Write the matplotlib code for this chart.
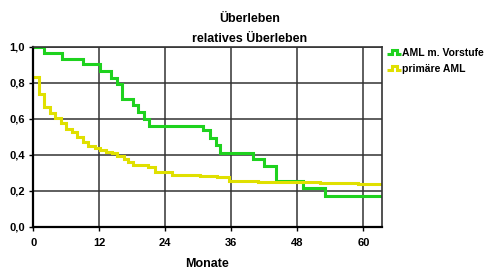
import numpy as np
import matplotlib
matplotlib.use("Agg")
import matplotlib.pyplot as plt
from matplotlib.legend_handler import HandlerBase
from matplotlib.lines import Line2D

plt.rcParams['font.family'] = ['Liberation Sans Narrow', 'Liberation Sans', 'DejaVu Sans']
plt.rcParams['font.weight'] = 'bold'

# Kaplan-Meier step data (months, relative survival)
green_t = [0, 2.0, 5.2, 9.0, 12.1, 14.1, 15.2, 16.1, 18.2, 19.1, 20.1, 21.1,
           30.9, 32.2, 33.2, 34.0, 40.0, 42.0, 44.1, 49.0, 53.0]
green_s = [1.0, 0.967, 0.932, 0.902, 0.867, 0.824, 0.791, 0.709, 0.676, 0.639, 0.597, 0.559,
           0.537, 0.491, 0.454, 0.408, 0.376, 0.337, 0.256, 0.213, 0.172]

yellow_t = [0, 1.1, 2.0, 3.0, 4.0, 5.0, 5.9, 7.0, 8.0, 9.0, 10.0, 11.2, 12.1, 13.3,
            14.3, 15.2, 16.4, 17.3, 18.1, 20.9, 22.1, 25.2, 30.3, 33.3, 35.5, 40.9, 52.1, 59.1]
yellow_s = [0.832, 0.736, 0.667, 0.633, 0.602, 0.574, 0.544, 0.524, 0.50, 0.47, 0.45, 0.436,
            0.426, 0.417, 0.408, 0.394, 0.376, 0.361, 0.343, 0.333, 0.302, 0.287, 0.282,
            0.274, 0.256, 0.247, 0.241, 0.237]

labels = ['AML m. Vorstufe', 'primäre AML']
colors = ['#1ed21e', '#e0e000']
x_max = 63.3
x_ticks = [0, 12, 24, 36, 48, 60]
y_ticks = [0.0, 0.2, 0.4, 0.6, 0.8, 1.0]


class StepHandler(HandlerBase):
    # small "pulse" icon like the original legend
    def create_artists(self, legend, orig_handle, xdescent, ydescent,
                       width, height, fontsize, trans):
        lo = height * 0.2
        hi = height * 0.75
        xs = [0, width * 0.35, width * 0.35, width * 0.75, width * 0.75, width]
        ys = [lo, lo, hi, hi, lo, lo]
        ln = Line2D(xs, ys, color=orig_handle.get_color(),
                    lw=orig_handle.get_linewidth(), transform=trans,
                    solid_joinstyle='miter', solid_capstyle='butt')
        return [ln]


fig = plt.figure(figsize=(4.86, 2.69), dpi=100)
ax = fig.add_axes([0.0686, 0.157, 0.7164, 0.6694])

handles = []
for t, s, c, lab in [(green_t, green_s, colors[0], labels[0]),
                     (yellow_t, yellow_s, colors[1], labels[1])]:
    tt = list(t) + [x_max]
    ss = list(s) + [s[-1]]
    h, = ax.step(tt, ss, where='post', color=c, lw=2.2, label=lab,
                 solid_joinstyle='miter')
    handles.append(h)

ax.set_xlim(0, x_max)
ax.set_ylim(0, 1.0)
ax.set_xticks(x_ticks)
ax.set_yticks(y_ticks)
ax.set_yticklabels([f'{v:.1f}'.replace('.', ',') for v in y_ticks])
ax.tick_params(labelsize=8, length=3, width=1, pad=3)
ax.tick_params(axis='x', pad=5)
ax.grid(True, color='#333333', lw=1.1)
ax.set_axisbelow(True)
for side in ['left', 'bottom']:
    ax.spines[side].set_linewidth(1.6)
    ax.spines[side].set_color('black')
for side in ['top', 'right']:
    ax.spines[side].set_linewidth(1.2)
    ax.spines[side].set_color('#333333')
ax.set_xlabel('Monate', fontsize=9, fontweight='bold', labelpad=7)

fig.text(0.513, 0.928, 'Überleben', ha='center', va='center', fontsize=9, fontweight='bold')
fig.text(0.513, 0.855, 'relatives Überleben', ha='center', va='center', fontsize=9, fontweight='bold')

fig.legend(handles=handles, labels=labels, loc='upper left',
           bbox_to_anchor=(0.797, 0.822), frameon=False, fontsize=7.5,
           handlelength=1.3, handletextpad=0.15, labelspacing=0.55,
           borderaxespad=0, borderpad=0,
           handler_map={h: StepHandler() for h in handles})

fig.savefig('out.png', dpi=100)
